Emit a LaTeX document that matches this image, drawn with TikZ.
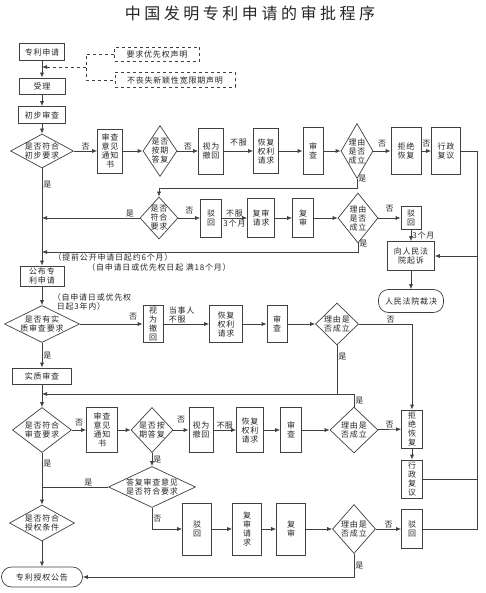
\documentclass[tikz,border=0pt]{standalone}
\usepackage{fontspec}
\newfontfamily\cjk[LetterSpace=10]{Noto Sans CJK SC}
\newfontfamily\cjktitle[LetterSpace=22]{Noto Sans CJK SC}
\usetikzlibrary{shapes.geometric, arrows.meta}

\begin{document}
\begin{tikzpicture}[x=1pt, y=-1pt,
	line/.style={draw=black!75, line width=0.7pt},
	arr/.style={line, -{Latex[length=5pt,width=4pt]}},
	box/.style={draw=black!75, line width=0.7pt, fill=white, align=center, inner sep=1pt, text=black!85, font=\cjk\fontsize{8}{9}\selectfont},
	dec/.style={box, diamond, aspect=1.5, inner sep=-6pt},
	stad/.style={box, rounded corners=10pt},
	lab/.style={text=black!85, inner sep=1pt, font=\cjk\fontsize{8}{9}\selectfont}]
					\useasboundingbox (0,0) rectangle (485,593);
					% TITLE
					\node (title) at (250,13) [font=\cjktitle\fontsize{16}{18}\selectfont, text=black!85] {中国发明专利申请的审批程序};
					% APPLICATION
					\node (sq) at (42,52) [box, minimum width=45, minimum height=17] {专利申请};
					\node (yq) at (157,54) [box, dashed, minimum width=85, minimum height=14] {要求优先权声明};
					\node (bs) at (175,80) [box, dashed, minimum width=120, minimum height=15] {不丧失新颖性宽限期声明};
					\node (sl) at (42,86) [box, minimum width=46, minimum height=16] {受理};
					\node (cb) at (42,115) [box, minimum width=47, minimum height=17] {初步审查};
					\node (d1) at (42,151) [dec, minimum width=63, minimum height=34] {是否符合\\初步要求};
					% FIRST ROW
					\node (tz1) at (110,151) [box, minimum width=25, minimum height=44] {审查\\意见\\通知\\书};
					\node (aq1) at (160,151) [dec, minimum width=34, minimum height=51] {是否\\按期\\答复};
					\node (ch1) at (211,151) [box, minimum width=25, minimum height=46] {视为\\撤回};
					\node (hf1) at (266,151) [box, minimum width=25, minimum height=45] {恢复\\权利\\请求};
					\node (sc1) at (313,151) [box, minimum width=20, minimum height=47] {审\\查};
					\node (ly1) at (357,151) [dec, minimum width=32, minimum height=55] {理由\\是否\\成立};
					\node (jj1) at (406,151) [box, minimum width=30, minimum height=47] {拒绝\\恢复};
					\node (xz1) at (446,151) [box, minimum width=29, minimum height=47] {行政\\复议};
					% SECOND ROW
					\node (d2) at (159,218) [dec, minimum width=38, minimum height=42] {是否\\符合\\要求};
					\node (bh1) at (211,218) [box, minimum width=21, minimum height=38] {驳\\回};
					\node (fq1) at (261,218) [box, minimum width=27, minimum height=39] {复审\\请求};
					\node (fs1) at (303,218) [box, minimum width=21, minimum height=39] {复\\审};
					\node (ly2) at (358,218) [dec, minimum width=40, minimum height=50] {理由\\是否\\成立};
					\node (bh2) at (411,218) [box, minimum width=20, minimum height=23] {驳\\回};
					\node (fy) at (411,256) [box, minimum width=47, minimum height=29] {向人民法\\院起诉};
					\node (cj) at (411,301) [stad, minimum width=65, minimum height=23] {人民法院裁决};
					\node (n6) at (113,257) [lab] {（提前公开申请日起约6个月）};
					\node (n18) at (159,267) [lab] {（自申请日或优先权日起~满18个月）};
					% PUBLICATION
					\node (gb) at (42,276) [box, minimum width=44, minimum height=20] {公布专\\利申请};
					\node (n3y) at (92,302) [lab, align=left] {（自申请日或优先权\\\hspace{4pt}日起3年内）};
					\node (d3) at (42,324) [dec, minimum width=75, minimum height=37] {是否有实\\质审查要求};
					\node (ch2) at (153,324) [box, minimum width=20, minimum height=37] {视\\为\\撤\\回};
					\node (hf2) at (226,324) [box, minimum width=33, minimum height=37] {恢复\\权利\\请求};
					\node (sc2) at (277,324) [box, minimum width=20, minimum height=37] {审\\查};
					\node (ly3) at (337,324) [dec, minimum width=43, minimum height=42] {理由是\\否成立};
					% SUBSTANTIVE EXAMINATION
					\node (sz) at (42,376) [box, minimum width=59, minimum height=16] {实质审查};
					\node (d4) at (42,430) [dec, minimum width=59, minimum height=45] {是否符合\\审查要求};
					\node (tz2) at (102,430) [box, minimum width=31, minimum height=45] {审查\\意见\\通知\\书};
					\node (aq2) at (152,430) [dec, minimum width=42, minimum height=45] {是否按\\期答复};
					\node (ch3) at (201,430) [box, minimum width=24, minimum height=45] {视为\\撤回};
					\node (hf3) at (250,430) [box, minimum width=27, minimum height=45] {恢复\\权利\\请求};
					\node (sc3) at (291,430) [box, minimum width=21, minimum height=45] {审\\查};
					\node (ly4) at (354,430) [dec, minimum width=48, minimum height=46] {理由是\\否成立};
					\node (jj2) at (412,429) [box, minimum width=21, minimum height=38] {拒\\绝\\恢\\复};
					\node (xz2) at (412,479) [box, minimum width=21, minimum height=38] {行\\政\\复\\议};
					% GRANT
					\node (d5) at (152,487) [dec, minimum width=87, minimum height=41] {答复审查意见\\是否符合要求};
					\node (d6) at (42,523) [dec, minimum width=65, minimum height=36] {是否符合\\授权条件};
					\node (gg) at (42,577) [stad, minimum width=81, minimum height=20] {专利授权公告};
					\node (bh3) at (197,529) [box, minimum width=29, minimum height=52] {驳\\回};
					\node (fq2) at (247,529) [box, minimum width=29, minimum height=52] {复\\审\\请\\求};
					\node (fs2) at (291,529) [box, minimum width=29, minimum height=52] {复\\审};
					\node (ly5) at (354,529) [dec, minimum width=43, minimum height=49] {理由是\\否成立};
					\node (bh4) at (412,529) [box, minimum width=21, minimum height=39] {驳\\回};
					% HOOKS
					\coordinate (dj) at (86,67);
					\coordinate (p6) at (42,252);
					\coordinate (p9) at (42,394);
					\coordinate (rail) at (477,151);
					\draw[line, dashed] (yq.west) -| (dj) |- (bs.west);
					\draw[arr, dashed] (dj) -- (dj -| sq);
					\draw[arr] (sq) -- (sl);
					\draw[arr] (sl) -- (cb);
					\draw[arr] (cb) -- (d1);
					\draw[arr] (d1) -- (gb) node[lab, pos=.17, right] {是};
					\draw[arr] (gb) -- (d3);
					\draw[arr] (d3) -- (sz) node[lab, midway, right] {是};
					\draw[arr] (sz) -- (d4);
					\draw[arr] (d4) -- (d6) node[lab, pos=.2, right] {是};
					\draw[arr] (d6) -- (gg);
					% FIRST ROW LINKS
					\draw[arr] (d1) -- (tz1) node[lab, midway, above] {否};
					\draw[arr] (tz1) -- (aq1);
					\draw[arr] (aq1) -- (ch1) node[lab, midway, above] {否};
					\draw[arr] (ch1) -- (hf1) node[lab, midway, above=3pt] {不服};
					\draw[arr] (hf1) -- (sc1);
					\draw[arr] (sc1) -- (ly1);
					\draw[arr] (ly1) -- (jj1) node[lab, midway, above=3pt] {否};
					\draw[arr] (jj1) -- (xz1) node[lab, midway, above=3pt] {否};
					\draw[arr] (ly1.south) node[lab, right] {是} -- ++(0,10) -| (d2.north);
					\draw[line] (xz1.east) -- (rail) -- (rail |- bh4.east) -- (bh4.east);
					% SECOND ROW LINKS
					\draw[arr] (d2.west) -- (d2.west -| d1) node[lab, pos=.1, above] {是};
					\draw[arr] (d2) -- (bh1) node[lab, midway, above=3pt] {否};
					\draw[arr] (bh1) -- (fq1) node[lab, midway, above] {不服} node[lab, midway, below] {3个月};
					\draw[arr] (fq1) -- (fs1);
					\draw[arr] (fs1) -- (ly2);
					\draw[arr] (ly2) -- (bh2) node[lab, midway, above=5pt] {否};
					\draw[arr] (ly2.south) node[lab, right] {是} |- (p6);
					\draw[arr] (bh2) -- (fy) node[lab, midway, right] {3个月};
					\draw[arr] (rail |- fy.east) -- (fy.east);
					\draw[arr] (fy) -- (cj);
					% THIRD ROW LINKS
					\draw[arr] (d3) -- (ch2) node[lab, pos=.85, above=3pt] {否};
					\draw[arr] (ch2) -- (hf2) node[lab, pos=.4, above, align=left] {当事人\\不服};
					\draw[arr] (hf2) -- (sc2);
					\draw[arr] (sc2) -- (ly3);
					\draw[arr] (ly3.east) -| (jj2.north) node[lab, pos=.3, above] {否};
					\draw[arr] (ly3.south) |- (p9) node[lab, pos=.12, right] {是};
					% FOURTH ROW LINKS
					\draw[arr] (d4) -- (tz2) node[lab, midway, above=3pt] {否};
					\draw[arr] (tz2) -- (aq2);
					\draw[arr] (aq2) -- (ch3) node[lab, midway, above=6pt] {否};
					\draw[arr] (ch3) -- (hf3) node[lab, midway, above] {不\\服};
					\draw[arr] (hf3) -- (sc3);
					\draw[arr] (sc3) -- (ly4);
					\draw[arr] (ly4) -- (jj2) node[lab, midway, above] {否};
					\draw[line] (ly4.north) |- (ly3 |- p9) node[lab, pos=.25, right] {是};
					\draw[arr] (jj2) -- (xz2);
					\draw[line] (xz2.east) -- (xz2.east -| rail);
					% FIFTH ROW LINKS
					\draw[arr] (aq2) -- (d5) node[lab, midway, right] {是};
					\draw[line] (d5.west) -- (d5.west -| d1) node[lab, pos=.3, above] {是};
					\draw[arr] (d5.south) |- (bh3.west) node[lab, pos=.25, right] {否};
					\draw[arr] (bh3) -- (fq2);
					\draw[arr] (fq2) -- (fs2);
					\draw[arr] (fs2) -- (ly5);
					\draw[arr] (ly5) -- (bh4) node[lab, midway, above] {否};
					\draw[arr] (ly5.south) |- (gg.east) node[lab, pos=.25, right] {是};
\end{tikzpicture}
\end{document}
